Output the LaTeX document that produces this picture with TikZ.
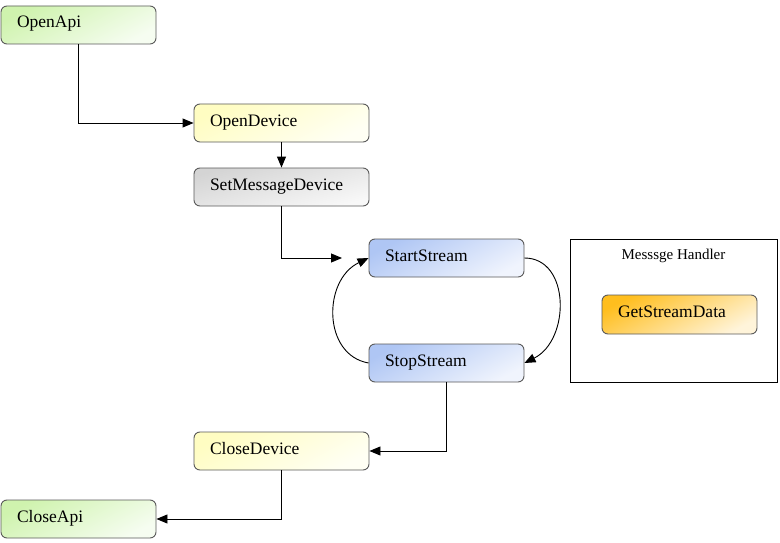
\documentclass[tikz,border=0pt]{standalone}
\usepackage{fontspec}
\setmainfont{Liberation Serif}
\usetikzlibrary{arrows.meta}
\definecolor{boxline}{HTML}{5A5A5A}
\definecolor{greenA}{HTML}{CFF3AE}
\definecolor{greenB}{HTML}{F6FDF1}
\definecolor{yellowA}{HTML}{FFFDC2}
\definecolor{yellowB}{HTML}{FFFFF4}
\definecolor{grayA}{HTML}{D4D4D4}
\definecolor{grayB}{HTML}{F8F8F8}
\definecolor{blueA}{HTML}{AFC6F4}
\definecolor{blueB}{HTML}{F0F4FD}
\definecolor{orangeA}{HTML}{FFBE1E}
\definecolor{orangeB}{HTML}{FFF4DA}
\tikzset{
  box/.style={draw=boxline, line width=0.9pt, rounded corners=6pt,
    minimum height=38pt, inner xsep=16pt, inner ysep=0pt, align=left,
    text height=14pt, text depth=8pt,
    font=\fontsize{17.5}{20}\selectfont, shading=axis},
  widebox/.style={text width=143pt},
  narrowbox/.style={text width=123pt},
  gfill/.style={top color=greenA, middle color=greenA!40!greenB, bottom color=greenB, shading angle=28},
  yfill/.style={top color=yellowA, middle color=yellowA!40!yellowB, bottom color=yellowB, shading angle=28},
  kfill/.style={top color=grayA, middle color=grayA!45!grayB, bottom color=grayB, shading angle=15},
  bfill/.style={top color=blueA, middle color=blueA!40!blueB, bottom color=blueB, shading angle=28},
  ofill/.style={top color=orangeA, middle color=orangeA!40!orangeB, bottom color=orangeB, shading angle=28},
  conn/.style={line width=0.9pt, -{Triangle[length=11pt,width=9pt]}},
}
\begin{document}
\begin{tikzpicture}[x=1pt,y=-1pt]
\useasboundingbox[fill=white] (0,0) rectangle (780,543);

\node[box,narrowbox,gfill] (openapi) at (78.5,25) {OpenApi};
\node[box,widebox,yfill] (opendev) at (281.5,123) {OpenDevice};
\node[box,widebox,kfill] (setmsg) at (281.5,187) {SetMessageDevice};
\node[box,narrowbox,bfill] (start) at (446.5,258) {StartStream};
\node[box,narrowbox,bfill] (stop) at (446.5,363) {StopStream};
\node[box,widebox,yfill] (closedev) at (281.5,451) {CloseDevice};
\node[box,narrowbox,gfill] (closeapi) at (78.5,519) {CloseApi};

\node[draw=black, line width=0.8pt, minimum width=207pt, minimum height=143pt,
      inner sep=0pt] (handler) at (673.5,310.5) {};
\node[anchor=base, font=\fontsize{15}{18}\selectfont] (htitle) at (673.5,259) {Messsge Handler};
\node[box,narrowbox,ofill,minimum height=39pt] (getdata) at (679.5,314.5) {GetStreamData};

\coordinate (loopin) at (342,258);

\draw[conn] (openapi.south) |- (opendev.west);
\draw[conn] (opendev.south) -- (setmsg.north);
\draw[conn] (setmsg.south) |- (loopin);
\draw[conn] (start.east) .. controls +(46,0) and +(46,-23) .. (stop.east);
\draw[conn] (stop.west) .. controls +(-46,-8) and +(-46,22) .. (start.west);
\draw[conn] (stop.south) |- (closedev.east);
\draw[conn] (closedev.south) |- (closeapi.east);
\end{tikzpicture}
\end{document}
